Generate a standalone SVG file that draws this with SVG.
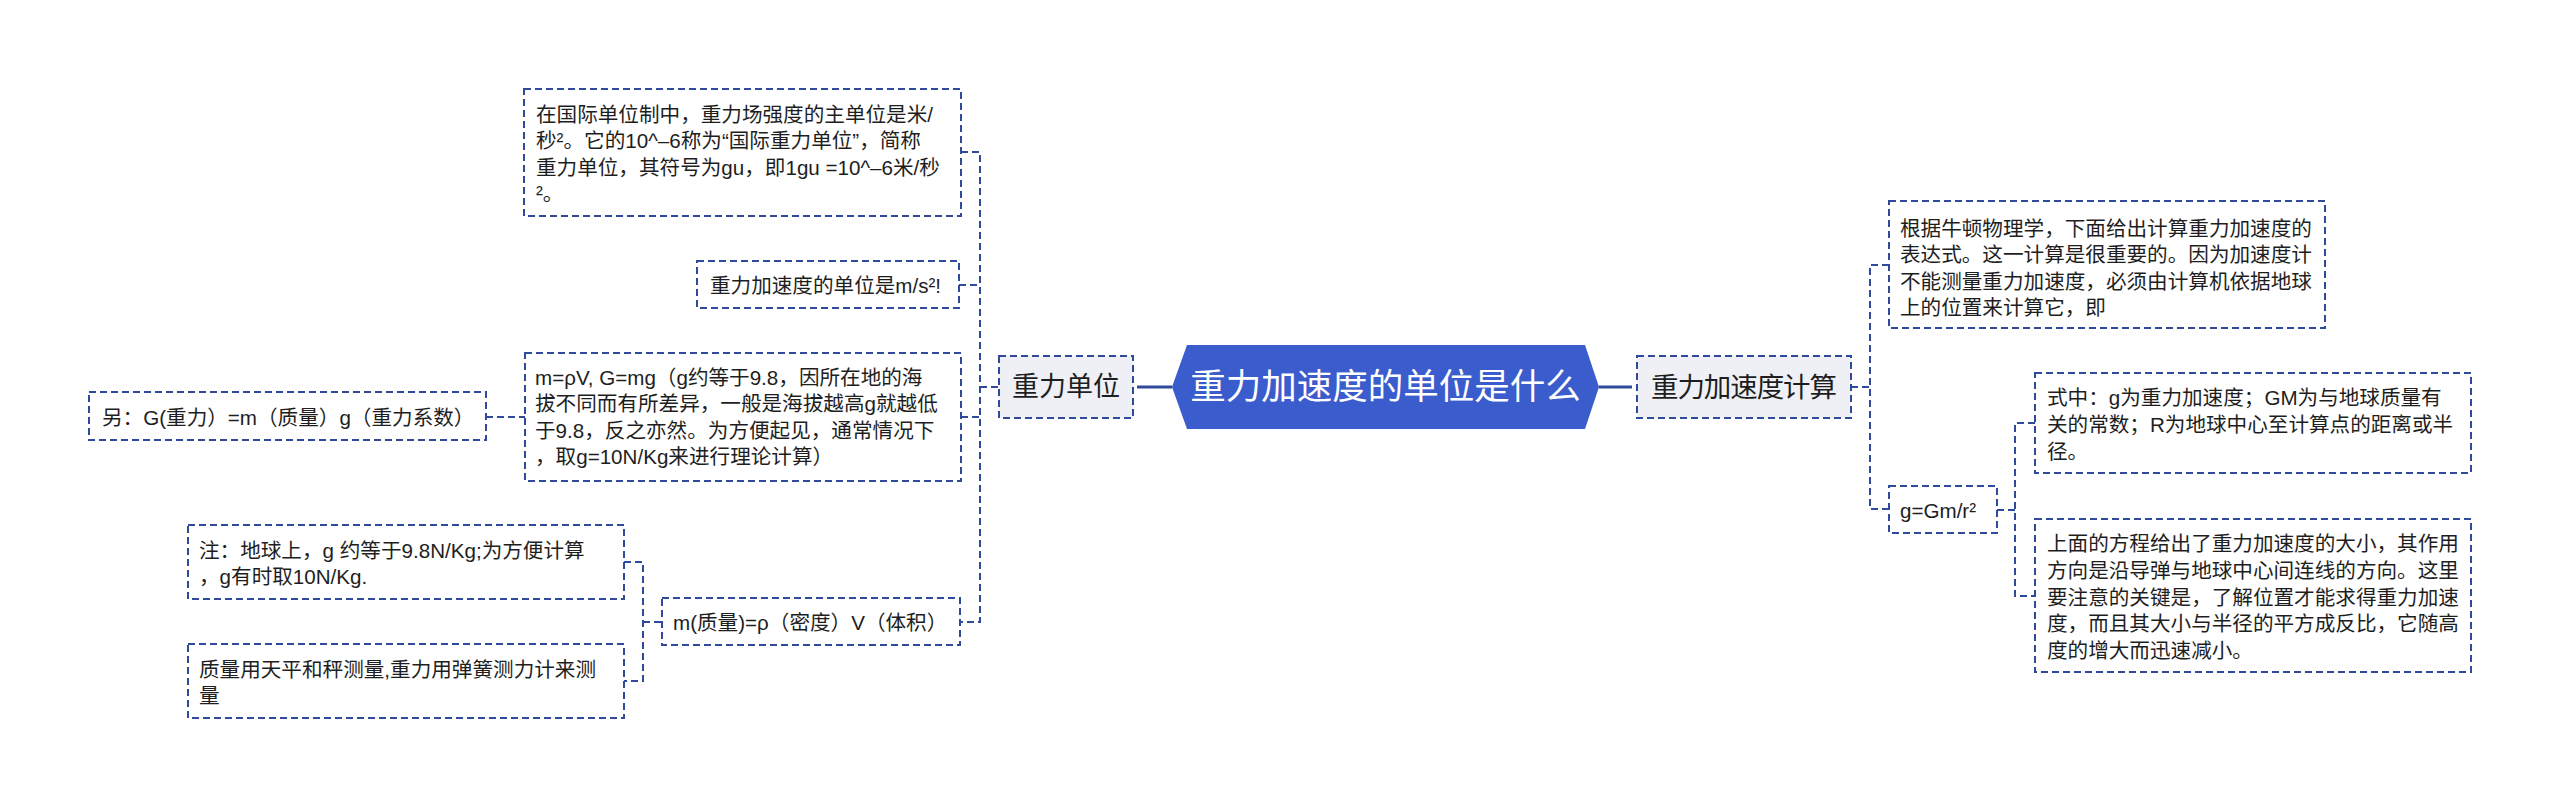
<svg xmlns="http://www.w3.org/2000/svg" width="2560" height="807" viewBox="0 0 2560 807">
<style>
.bg{fill:#ffffff}
.leaf{fill:#ffffff;stroke:#2f4a9b;stroke-width:2;stroke-dasharray:7 4}
.sub{fill:#eef0f5;stroke:#2f4a9b;stroke-width:2;stroke-dasharray:7 4}
.conn{fill:none;stroke:#2f4a9b;stroke-width:2;stroke-dasharray:7 4}
.solid{fill:none;stroke:#2f4a9b;stroke-width:3}
.t{font-family:"Liberation Sans","Noto Sans CJK SC",sans-serif;font-size:20.6px;fill:#1e1e1e;dominant-baseline:central}
.ts{font-family:"Liberation Sans","Noto Sans CJK SC",sans-serif;fill:#1e1e1e;dominant-baseline:central}
.tc{font-family:"Liberation Sans","Noto Sans CJK SC",sans-serif;font-size:35.5px;fill:#ffffff;dominant-baseline:central;text-anchor:middle}
</style>
<rect class="bg" x="0" y="0" width="2560" height="807"/>

<g id="connectors">
  <path class="conn" d="M961 152 H980 V622 H960"/>
  <path class="conn" d="M959 285 H980"/>
  <path class="conn" d="M961 417 H980"/>
  <path class="conn" d="M980 387 H999"/>
  <path class="conn" d="M486 417 H525"/>
  <path class="conn" d="M624 562 H643 V681 H624"/>
  <path class="conn" d="M643 622 H662"/>
  <path class="solid" d="M1137 387 H1172"/>
  <path class="solid" d="M1599 387 H1632"/>
  <path class="conn" d="M1851 387 H1870"/>
  <path class="conn" d="M1889 265 H1870 V509 H1889"/>
  <path class="conn" d="M1997 510 H2015"/>
  <path class="conn" d="M2035 423 H2015 V596 H2035"/>
</g>

<g id="center">
  <polygon points="1172,387 1187,345 1585,345 1599,387 1585,429 1187,429" fill="#3b5ccc"/>
  <text class="tc" x="1385.5" y="387">重力加速度的单位是什么</text>
</g>

<g id="node-zhongli-danwei">
  <rect class="sub" x="999" y="356" width="134" height="62"/>
  <text class="ts" x="1012" y="387" font-size="27">重力单位</text>
</g>

<g id="node-jisuan">
  <rect class="sub" x="1637" y="356" width="214" height="62"/>
  <text class="ts" x="1651" y="387" font-size="27.5" textLength="186" lengthAdjust="spacing">重力加速度计算</text>
</g>

<g id="node-guoji">
  <rect class="leaf" x="524" y="89" width="437" height="127"/>
  <text class="t" x="536" y="114">在国际单位制中，重力场强度的主单位是米/</text>
  <text class="t" x="536" y="140.5">秒²。它的10^–6称为“国际重力单位”，简称</text>
  <text class="t" x="536" y="167">重力单位，其符号为gu，即1gu =10^–6米/秒</text>
  <text class="t" x="536" y="193.5">²。</text>
</g>

<g id="node-ms2">
  <rect class="leaf" x="697" y="261" width="262" height="47"/>
  <text class="t" x="710" y="285">重力加速度的单位是m/s²!</text>
</g>

<g id="node-mpv">
  <rect class="leaf" x="525" y="353" width="436" height="128"/>
  <text class="t" x="535" y="377">m=ρV, G=mg（g约等于9.8，因所在地的海</text>
  <text class="t" x="535" y="403.5">拔不同而有所差异，一般是海拔越高g就越低</text>
  <text class="t" x="535" y="430">于9.8，反之亦然。为方便起见，通常情况下</text>
  <text class="t" x="535" y="456.5">，取g=10N/Kg来进行理论计算）</text>
</g>

<g id="node-ling">
  <rect class="leaf" x="89" y="392" width="397" height="48"/>
  <text class="t" x="102" y="417">另：G(重力）=m（质量）g（重力系数）</text>
</g>

<g id="node-mzhiliang">
  <rect class="leaf" x="662" y="598" width="298" height="47"/>
  <text class="t" x="673" y="622">m(质量)=ρ（密度）V（体积）</text>
</g>

<g id="node-zhu">
  <rect class="leaf" x="188" y="525" width="436" height="74"/>
  <text class="t" x="199" y="550">注：地球上，g 约等于9.8N/Kg;为方便计算</text>
  <text class="t" x="199" y="576">，g有时取10N/Kg.</text>
</g>

<g id="node-celiang">
  <rect class="leaf" x="188" y="644" width="436" height="74"/>
  <text class="t" x="199" y="669">质量用天平和秤测量,重力用弹簧测力计来测</text>
  <text class="t" x="199" y="695">量</text>
</g>

<g id="node-niudun">
  <rect class="leaf" x="1889" y="201" width="436" height="127"/>
  <text class="t" x="1900" y="228">根据牛顿物理学，下面给出计算重力加速度的</text>
  <text class="t" x="1900" y="254.5">表达式。这一计算是很重要的。因为加速度计</text>
  <text class="t" x="1900" y="281">不能测量重力加速度，必须由计算机依据地球</text>
  <text class="t" x="1900" y="307.5">上的位置来计算它，即</text>
</g>

<g id="node-formula">
  <rect class="leaf" x="1889" y="486" width="108" height="47"/>
  <text class="t" x="1900" y="510">g=Gm/r²</text>
</g>

<g id="node-shizhong">
  <rect class="leaf" x="2035" y="373" width="436" height="100"/>
  <text class="t" x="2047" y="397">式中：g为重力加速度；GM为与地球质量有</text>
  <text class="t" x="2047" y="424">关的常数；R为地球中心至计算点的距离或半</text>
  <text class="t" x="2047" y="451">径。</text>
</g>

<g id="node-fangcheng">
  <rect class="leaf" x="2035" y="519" width="436" height="153"/>
  <text class="t" x="2047" y="543">上面的方程给出了重力加速度的大小，其作用</text>
  <text class="t" x="2047" y="570">方向是沿导弹与地球中心间连线的方向。这里</text>
  <text class="t" x="2047" y="597">要注意的关键是，了解位置才能求得重力加速</text>
  <text class="t" x="2047" y="623">度，而且其大小与半径的平方成反比，它随高</text>
  <text class="t" x="2047" y="650">度的增大而迅速减小。</text>
</g>
</svg>
